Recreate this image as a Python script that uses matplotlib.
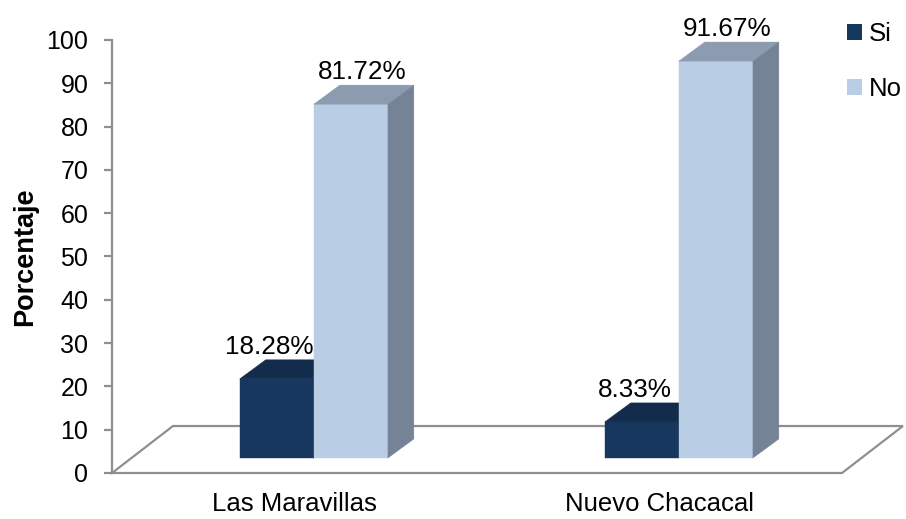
import numpy as np
import matplotlib.pyplot as plt
from matplotlib.patches import Polygon, Patch

plt.rcParams['font.family'] = ['Liberation Sans', 'DejaVu Sans']

# Data
categories = ["Las Maravillas", "Nuevo Chacacal"]
series_names = ["Si", "No"]
si_values = [18.28, 8.33]
no_values = [81.72, 91.67]
y_ticks = list(range(0, 101, 10))

# Colours per series: front, top, side
front_colors = ["#17375E", "#B9CDE5"]
top_colors = ["#132C4C", "#8C9BB0"]
side_colors = ["#0F2440", "#768397"]
floor_color = "#8F8F8F"

# Pseudo-3D geometry (x in category units, y in value units)
floor_dx, floor_dy = 0.167, 10.85   # depth of the floor
bar_w = 0.203                        # width of one bar
bar_dx, bar_dy = 0.071, 4.4          # depth of each bar
shift_dx, shift_dy = 0.053, 3.46     # bar front plane, relative to floor front
label_dx = [-0.02, 0.03]

W, H = 906, 519
fig = plt.figure(figsize=(W / 100, H / 100), dpi=100)
ax = fig.add_axes([112 / W, (H - 473) / H, (W - 112) / W, 433 / H])
ax.set_xlim(0, (W - 112) / 365)
ax.set_ylim(0, 100)
ax.patch.set_visible(False)

for s in ["top", "right", "bottom"]:
    ax.spines[s].set_visible(False)
ax.spines["left"].set_color(floor_color)
ax.spines["left"].set_linewidth(1.6)
ax.set_yticks(y_ticks)
ax.tick_params(axis="y", direction="out", length=6, width=1.6, color=floor_color,
               labelsize=18, pad=11)

# floor outline
n = len(categories)
ax.plot([0, n, n + floor_dx, floor_dx, 0], [0, 0, floor_dy, floor_dy, 0],
        color=floor_color, lw=1.6, zorder=1, clip_on=False, solid_joinstyle="miter")

centers = np.arange(n) + 0.5
ax.set_xticks(centers)
ax.set_xticklabels(categories, fontsize=18.5)
ax.tick_params(axis="x", length=0, pad=14)


def draw_bar(x0, value, k):
    base = shift_dy
    top = base + value
    x1 = x0 + bar_w
    ax.bar(x0, value, bar_w, bottom=base, align="edge", color=front_colors[k],
           edgecolor=front_colors[k], lw=0.3, zorder=3)
    ax.add_patch(Polygon([(x0, top), (x1, top), (x1 + bar_dx, top + bar_dy),
                          (x0 + bar_dx, top + bar_dy)], closed=True,
                         facecolor=top_colors[k], edgecolor=top_colors[k], lw=0.3,
                         zorder=3, clip_on=False))
    ax.add_patch(Polygon([(x1, base), (x1, top), (x1 + bar_dx, top + bar_dy),
                          (x1 + bar_dx, base + bar_dy)], closed=True,
                         facecolor=side_colors[k], edgecolor=side_colors[k], lw=0.3,
                         zorder=3, clip_on=False))
    ax.text(x0 + bar_w / 2 + label_dx[k], top + bar_dy + 3.0, f"{value:.2f}%",
            ha="center", va="center", fontsize=18.8, zorder=5)


for i, c in enumerate(centers):
    front = c + shift_dx
    draw_bar(front - bar_w, si_values[i], 0)
    draw_bar(front, no_values[i], 1)

fig.text(25 / W, 1 - 257 / H, "Porcentaje", rotation=90, ha="center", va="center",
         fontsize=19.5, fontweight="bold")

handles = [Patch(facecolor=front_colors[k], edgecolor="none") for k in range(2)]
fig.legend(handles, series_names, loc="upper left", bbox_to_anchor=(847 / W, 1 - 22 / H),
           frameon=False, fontsize=18.5, handlelength=0.6, handleheight=0.6,
           handletextpad=0.25, labelspacing=1.2, borderpad=0, borderaxespad=0)

fig.savefig("out.png", dpi=100)
